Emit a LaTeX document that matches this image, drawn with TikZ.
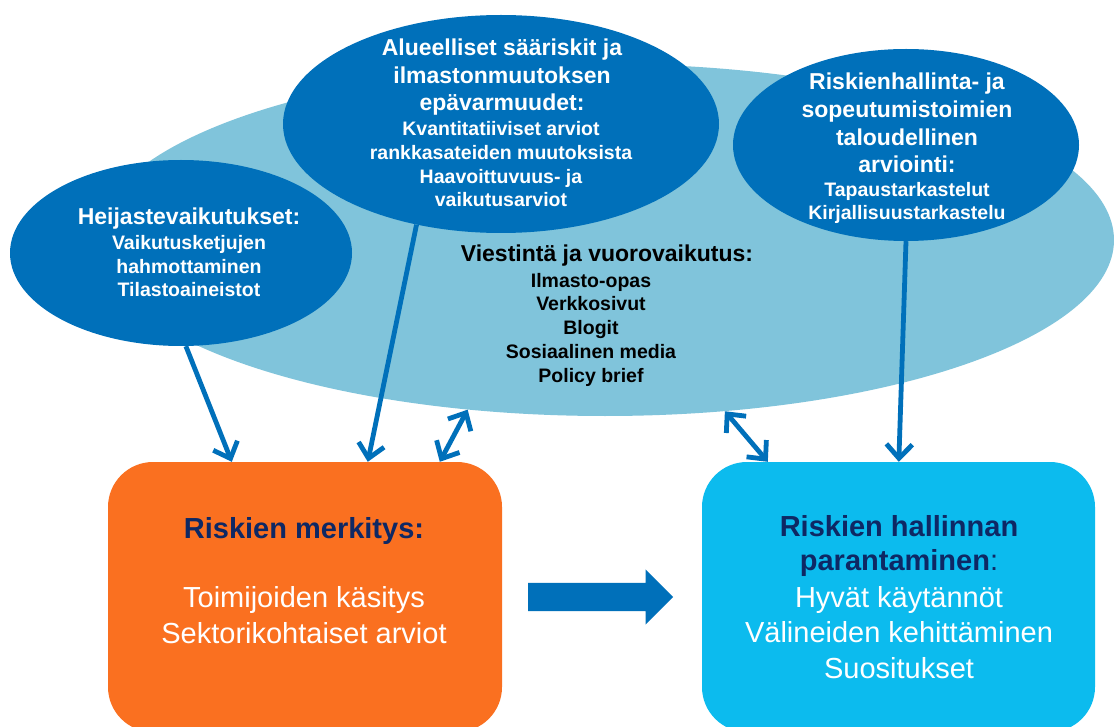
\documentclass[tikz,border=0pt]{standalone}
\usepackage{fontspec}
\setmainfont{Liberation Sans}
\usetikzlibrary{shapes.geometric,shapes.arrows,arrows.meta,calc}
\definecolor{dblue}{RGB}{0,112,186}
\definecolor{lblue}{RGB}{128,196,219}
\definecolor{orng}{RGB}{250,112,32}
\definecolor{cyn}{RGB}{12,187,238}
\definecolor{navy}{RGB}{14,40,100}
\begin{document}
\begin{tikzpicture}[x=1pt,y=-1pt,
 oval/.style={ellipse, fill=dblue, inner sep=0pt},
 ttl/.style={text=white, font=\bfseries\fontsize{23}{27.7}\selectfont, align=center, anchor=base, inner sep=0pt},
 sub/.style={text=white, font=\bfseries\fontsize{19.5}{23.7}\selectfont, align=center, anchor=base, inner sep=0pt},
 arr/.style={draw=dblue, line width=4.8pt, -{Straight Barb[length=14pt,width=26pt]}},
 darr/.style={draw=dblue, line width=4.8pt, {Straight Barb[length=14pt,width=26pt]}-{Straight Barb[length=14pt,width=26pt]}},
 box/.style={rounded corners=45pt, minimum width=394pt, minimum height=270pt, inner sep=0pt},
 boxttl/.style={anchor=base, inner sep=0pt, text=navy, align=center, font=\bfseries\fontsize{29}{34}\selectfont},
 boxtxt/.style={anchor=base, inner sep=0pt, text=white, align=center, font=\fontsize{29}{35.5}\selectfont}
]
\useasboundingbox (0,0) rectangle (1114,727);
\fill[white] (0,0) rectangle (1114,727);

\node[ellipse, fill=lblue, minimum width=1018pt, minimum height=352pt, inner sep=0pt] (viest) at (605,240) {};
\node[oval, minimum width=342pt, minimum height=186pt] (heij) at (181,253) {};
\node[oval, minimum width=436pt, minimum height=218pt] (alue) at (501,124) {};
\node[oval, minimum width=346pt, minimum height=192pt] (risk) at (906,145) {};

% multi-line nodes: base = baseline of the last line
\node[ttl] (heijT) at (189,225) {Heijastevaikutukset:};
\node[sub] (heijS) at (189,297) {Vaikutusketjujen\\hahmottaminen\\Tilastoaineistot};
\node[ttl] (alueT) at (502,111) {Alueelliset sääriskit ja\\ilmastonmuutoksen\\epävarmuudet:};
\node[sub] (alueS) at (501,207) {Kvantitatiiviset arviot\\rankkasateiden muutoksista\\Haavoittuvuus- ja\\vaikutusarviot};
\node[ttl] (riskT) at (907,173) {Riskienhallinta- ja\\sopeutumistoimien\\taloudellinen\\arviointi:};
\node[sub] (riskS) at (907,220) {Tapaustarkastelut\\Kirjallisuustarkastelu};
\node[ttl, text=black] (viestT) at (607,262) {Viestintä ja vuorovaikutus:};
\node[sub, text=black] (viestS) at (591,382) {Ilmasto-opas\\Verkkosivut\\Blogit\\Sosiaalinen media\\Policy brief};

\node[box, fill=orng] (merk) at (305,597) {};
\node[box, fill=cyn, minimum width=393pt] (hall) at (898.5,597) {};
\node[boxttl] (merkT) at (304,538) {Riskien merkitys:};
\node[boxtxt] (merkS) at (304,643) {Toimijoiden käsitys\\Sektorikohtaiset arviot};
\node[boxttl] (hallT) at (899,570) {Riskien hallinnan\\parantaminen{\mdseries:}};
\node[boxtxt] (hallS) at (899,678) {Hyvät käytännöt\\Välineiden kehittäminen\\Suositukset};

\node[single arrow, fill=dblue, minimum height=145pt, inner sep=0pt, inner ysep=14pt, single arrow head extend=13.5pt, anchor=west] (big) at (528,597) {};

\draw[arr] (heij.-87) -- ($(merk.north west)+(124,0)$);
\draw[arr] (alue.-130) -- ($(merk.north west)+(260,0)$);
\draw[darr] (viest.-129) -- ($(merk.north west)+(332,0)$);
\draw[darr] (viest.-55.5) -- ($(hall.north west)+(66,0)$);
\draw[arr] (risk.south) -- ($(hall.north west)+(197,0)$);
\end{tikzpicture}
\end{document}
